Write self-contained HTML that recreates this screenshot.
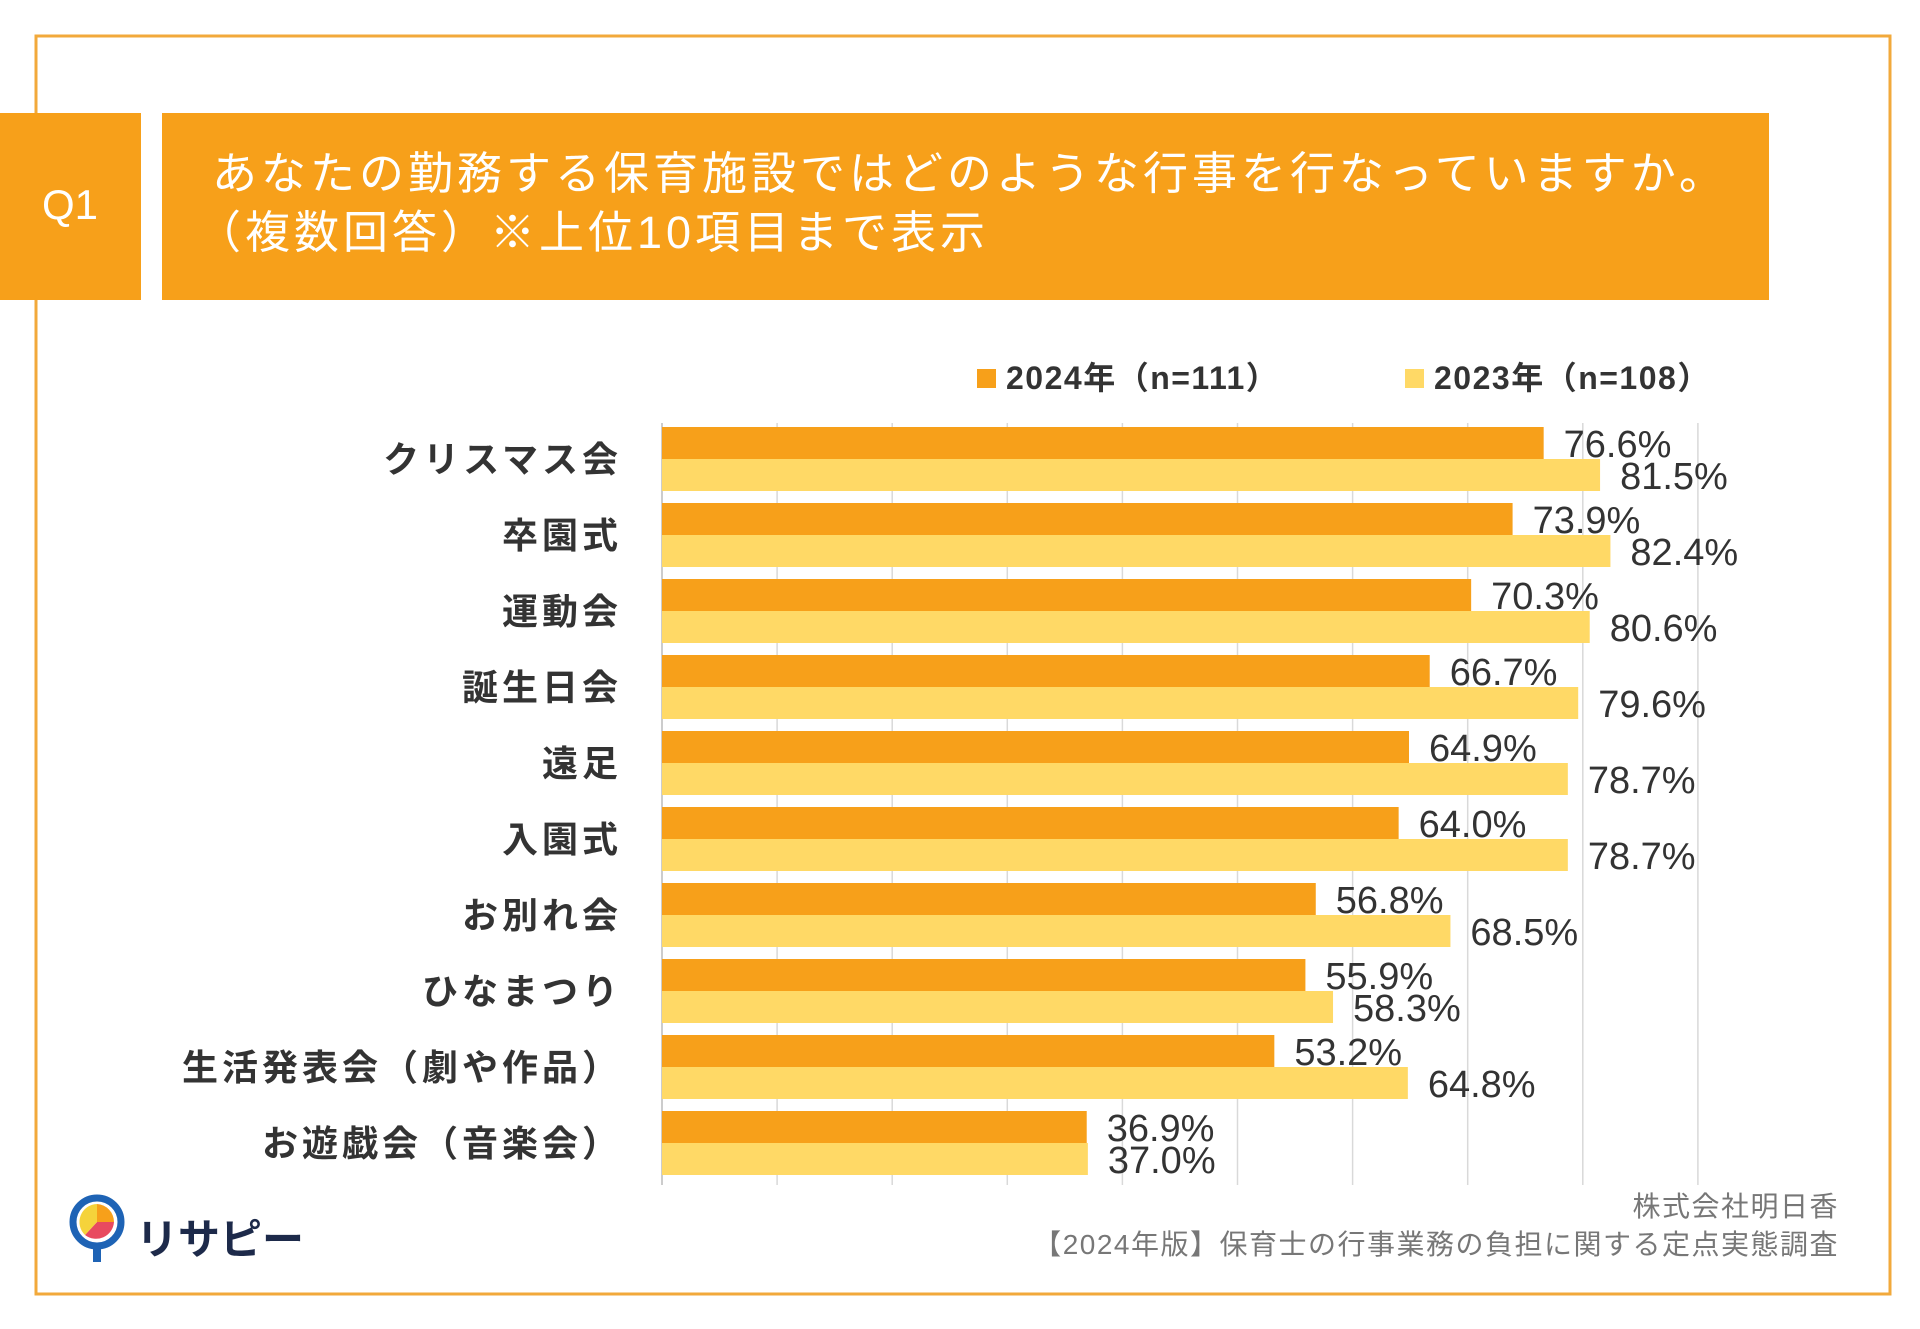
<!DOCTYPE html>
<html><head><meta charset="utf-8">
<style>
html,body{margin:0;padding:0;background:#fff;}
svg{display:block;}
text{font-family:"Liberation Sans","Noto Sans CJK JP",sans-serif;}
.val{font-family:"Liberation Sans Narrow","Liberation Sans","Noto Sans CJK JP",sans-serif;font-size:38px;fill:#333;}
</style></head>
<body>
<svg id="chart" width="1920" height="1329" viewBox="0 0 1920 1329" xmlns="http://www.w3.org/2000/svg">
<rect x="36" y="36" width="1854" height="1258" fill="#fff" stroke="#F2A93B" stroke-width="3"/>
<rect x="0" y="113" width="141" height="187" fill="#F7A01A"/>
<text x="70" y="219" font-size="42" fill="#fff" text-anchor="middle">Q1</text>
<rect x="162" y="113" width="1607" height="187" fill="#F7A01A"/>
<text x="212" y="189" font-size="45" letter-spacing="4" fill="#fff">あなたの勤務する保育施設ではどのような行事を行なっていますか。</text>
<text x="196" y="248" font-size="45" letter-spacing="4" fill="#fff">（複数回答）※上位10項目まで表示</text>
<g>
<rect x="977" y="369" width="19" height="19" fill="#F7A01A"/>
<text x="1006" y="389" font-size="32" font-weight="bold" letter-spacing="1.5" fill="#333">2024年（n=111）</text>
<rect x="1405" y="369" width="19" height="19" fill="#FFD966"/>
<text x="1434" y="389" font-size="32" font-weight="bold" letter-spacing="1.5" fill="#333">2023年（n=108）</text>
</g>
<g id="grid"></g>
<g id="bars"></g>
<g id="labels"></g>
<text x="1839" y="1216" font-size="28" letter-spacing="1.5" fill="#777" text-anchor="end">株式会社明日香</text>
<text x="1839" y="1254" font-size="28" letter-spacing="1.5" fill="#777" text-anchor="end">【2024年版】保育士の行事業務の負担に関する定点実態調査</text>
<g>
<path d="M97 1262 L97 1244" stroke="#1E63B5" stroke-width="8"/>
<circle cx="97" cy="1222" r="24" fill="#fff" stroke="#1E63B5" stroke-width="7"/>
<path d="M97 1222 L97 1204 A18 18 0 0 1 114 1222 Z" fill="#F7A01A"/>
<path d="M97 1222 L114 1222 A18 18 0 0 1 85 1235 Z" fill="#E84A5F"/>
<path d="M97 1222 L85 1235 A18 18 0 0 1 97 1204 Z" fill="#F5D33B"/>
<text x="136" y="1254" font-size="42" font-weight="bold" fill="#1d2a4a">リサピー</text>
</g>
</svg>
<script>
const categories = ["クリスマス会","卒園式","運動会","誕生日会","遠足","入園式","お別れ会","ひなまつり","生活発表会（劇や作品）","お遊戯会（音楽会）"];
const values2024 = [76.6,73.9,70.3,66.7,64.9,64.0,56.8,55.9,53.2,36.9];
const values2023 = [81.5,82.4,80.6,79.6,78.7,78.7,68.5,58.3,64.8,37.0];
const gridTicks = [0,10,20,30,40,50,60,70,80,90];

const NS = "http://www.w3.org/2000/svg";
const X0 = 662, PX = 11.51, TOP = 423, PITCH = 76, BH = 32;
const xs = v => X0 + v * PX;
const rowY = i => TOP + 4 + i * PITCH;
function mk(tag, attrs, parent){const e=document.createElementNS(NS,tag);for(const k in attrs)e.setAttribute(k,attrs[k]);parent.appendChild(e);return e;}
const grid=document.getElementById('grid'), bars=document.getElementById('bars'), labels=document.getElementById('labels');
gridTicks.forEach(t=>{
  const l=mk('line',{x1:xs(t),x2:xs(t),y1:TOP,y2:TOP+PITCH*categories.length+2,stroke:t===0?'#bbb':'#d9d9d9','stroke-width':1.5},grid);
  
  
});
categories.forEach((c,i)=>{
  const y=rowY(i);
  const b1=mk('rect',{x:X0,y:y,width:xs(values2024[i])-X0,height:BH,fill:'#F7A01A'},bars);
  
  
  const b2=mk('rect',{x:X0,y:y+BH,width:xs(values2023[i])-X0,height:BH,fill:'#FFD966'},bars);
  
  
  const t1=mk('text',{x:xs(values2024[i])+20,y:y+BH/2+14,class:'val'},bars);
  t1.textContent=values2024[i].toFixed(1)+'%';
  
  
  const t2=mk('text',{x:xs(values2023[i])+20,y:y+BH+BH/2+14,class:'val'},bars);
  t2.textContent=values2023[i].toFixed(1)+'%';
  
  
  const cl=mk('text',{x:622,y:y+BH+13,'font-size':36,'font-weight':'bold','letter-spacing':4,fill:'#333','text-anchor':'end'},labels);
  cl.textContent=c;
  
  
});
</script>
</body></html>
